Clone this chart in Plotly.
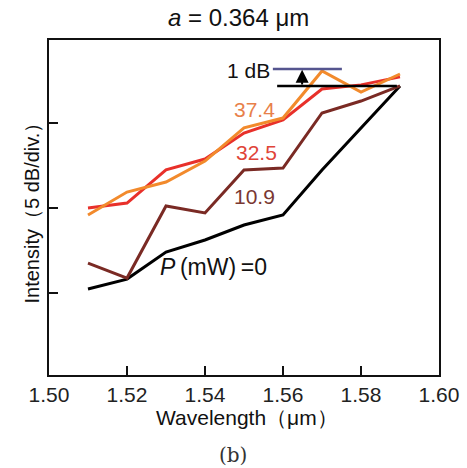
import plotly.graph_objects as go

wavelength = [1.51, 1.52, 1.53, 1.54, 1.55, 1.56, 1.57, 1.58, 1.59]
p0 = [0.24, 0.82, 2.41, 3.12, 4.0, 4.59, 7.24, 9.71, 12.18]
p10_9 = [1.76, 0.88, 5.12, 4.71, 7.24, 7.35, 10.59, 11.29, 12.18]
p32_5 = [5.0, 5.29, 7.24, 7.88, 9.41, 10.18, 12.0, 12.24, 12.71]
p37_4 = [4.59, 5.94, 6.53, 7.76, 9.71, 10.29, 13.06, 11.82, 12.88]

x_ticks = [1.50, 1.52, 1.54, 1.56, 1.58, 1.60]
x_ticktext = ["1.50", "1.52", "1.54", "1.56", "1.58", "1.60"]
y_ticks = [0, 5, 10]

ref_level = 12.18
ref_up = ref_level + 1.0

series = [
    ("0", p0, "#000000"),
    ("10.9", p10_9, "#7a2a24"),
    ("32.5", p32_5, "#e8302a"),
    ("37.4", p37_4, "#f28a2c"),
]

fig = go.Figure()
for name, vals, col in series:
    fig.add_trace(go.Scatter(x=wavelength, y=vals, mode="lines", name=name,
                             line=dict(color=col, width=3), showlegend=False,
                             hoverinfo="skip"))

# reference lines
fig.add_shape(type="line", x0=1.5585, x1=1.5892, y0=ref_level, y1=ref_level,
              line=dict(color="#000000", width=2.5))
fig.add_shape(type="line", x0=1.5574, x1=1.5751, y0=ref_up, y1=ref_up,
              line=dict(color="#55558f", width=2.5))
fig.add_annotation(x=1.5649, y=ref_up - 0.05, ax=1.5649, ay=ref_level,
                   xref="x", yref="y", axref="x", ayref="y", text="",
                   showarrow=True, arrowhead=2, arrowsize=1.3, arrowwidth=2,
                   arrowcolor="#000000")

font_main = "Liberation Sans, Arial, sans-serif"
fig.add_annotation(x=1.5572, y=13.1, text="1 dB", showarrow=False, xanchor="right",
                   font=dict(size=21, color="#111111", family=font_main))
fig.add_annotation(x=1.5528, y=10.82, text="37.4", showarrow=False,
                   font=dict(size=21, color="#e8804a", family=font_main))
fig.add_annotation(x=1.5533, y=8.24, text="32.5", showarrow=False,
                   font=dict(size=21, color="#e04438", family=font_main))
fig.add_annotation(x=1.5528, y=5.7, text="10.9", showarrow=False,
                   font=dict(size=21, color="#7a3832", family=font_main))
fig.add_annotation(x=1.5421, y=1.53, text="<i>P</i>\u2009(mW)\u2009=0", showarrow=False,
                   xanchor="center",
                   font=dict(size=23, color="#111111", family=font_main))

# titles as paper annotations
fig.add_annotation(x=0.487, y=1.066, xref="paper", yref="paper",
                   text="<i>a</i> = 0.364 μm", showarrow=False,
                   xanchor="center", yanchor="middle",
                   font=dict(size=24, color="#111111", family=font_main))
fig.add_annotation(x=0.508, y=-0.128, xref="paper", yref="paper",
                   text="Wavelength（μm）", showarrow=False,
                   xanchor="center", yanchor="middle",
                   font=dict(size=21, color="#111111", family=font_main))
fig.add_annotation(x=-0.0436, y=0.5, xref="paper", yref="paper",
                   text="Intensity（5 dB/div.）", showarrow=False, textangle=-90,
                   xanchor="center", yanchor="middle",
                   font=dict(size=20, color="#111111", family=font_main))
fig.add_annotation(x=0.472, y=-0.239, xref="paper", yref="paper", text="(b)",
                   showarrow=False, xanchor="center", yanchor="middle",
                   font=dict(size=20, color="#333333", family="DejaVu Serif, serif"))

fig.update_layout(
    width=467, height=468,
    margin=dict(l=49, r=28, t=40, b=93),
    paper_bgcolor="white", plot_bgcolor="white",
    font=dict(family=font_main, color="#111111"),
    hovermode=False,
    xaxis=dict(range=[1.50, 1.60], tickvals=x_ticks, ticktext=x_ticktext,
               ticks="inside", ticklen=9, tickwidth=2, tickcolor="#111111",
               showline=True, linewidth=2, linecolor="#111111", mirror=True,
               showgrid=False, zeroline=False, automargin=False,
               tickfont=dict(size=21, color="#222222")),
    yaxis=dict(range=[-4.82, 14.88], tickvals=y_ticks, showticklabels=False,
               ticks="inside", ticklen=9, tickwidth=2, tickcolor="#111111",
               showline=True, linewidth=2, linecolor="#111111", mirror=True,
               showgrid=False, zeroline=False, automargin=False),
)

fig.write_html("out.html", config={"displayModeBar": False, "staticPlot": True},
               post_script="document.body.style.margin='0';document.body.style.overflow='hidden';")
